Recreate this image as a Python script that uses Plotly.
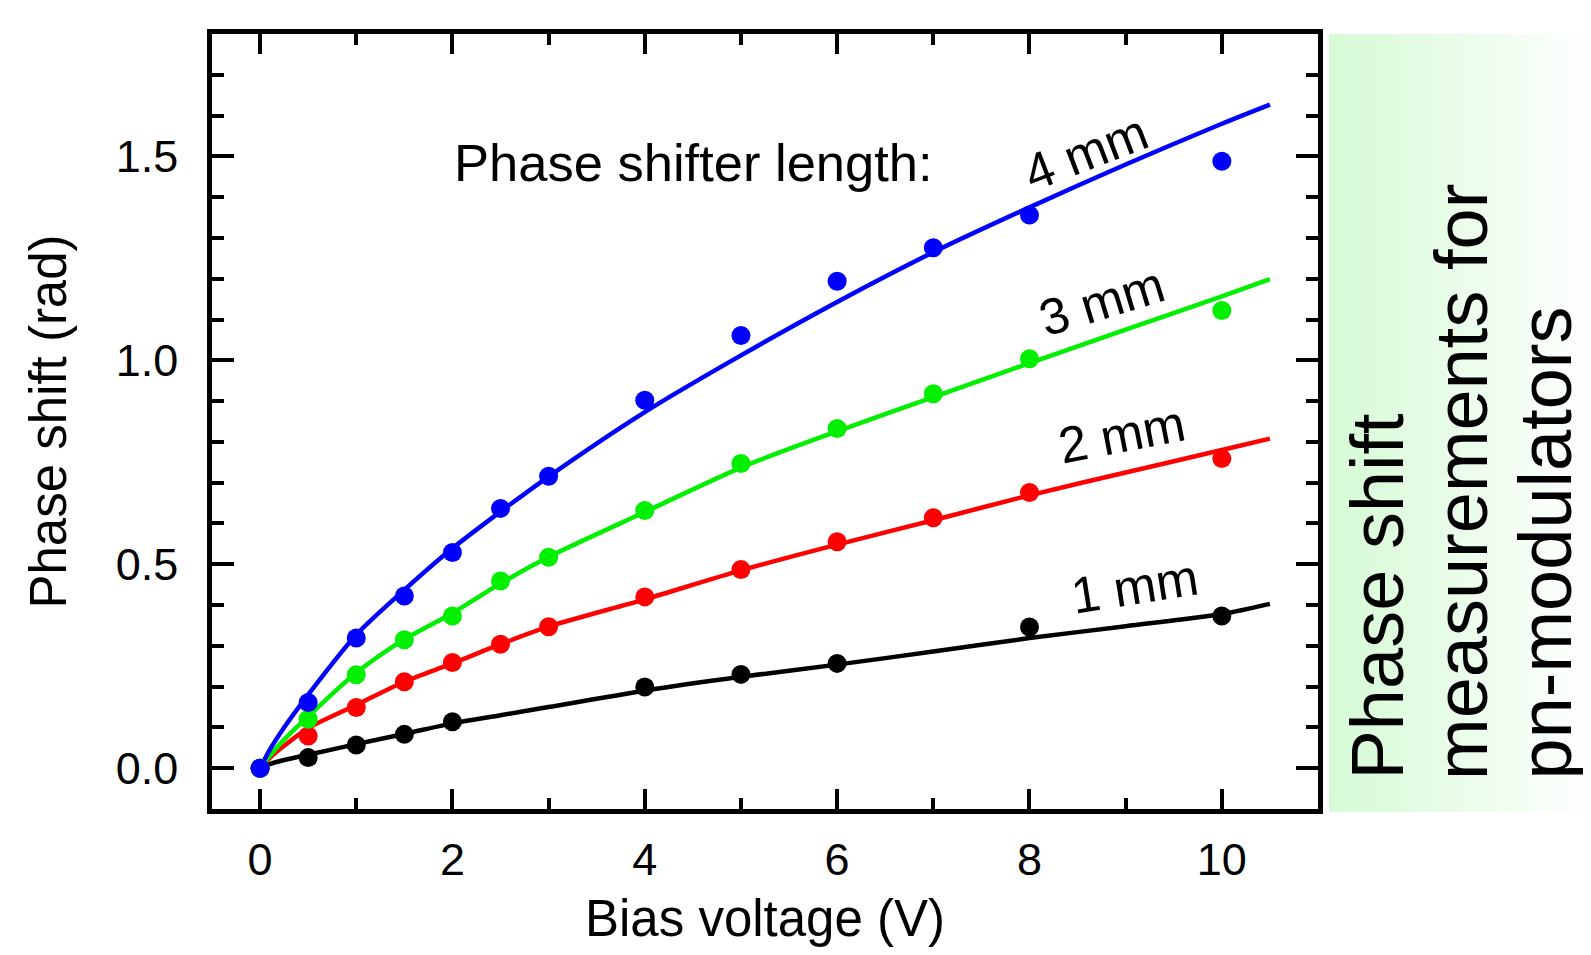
import plotly.graph_objects as go

# ---- data ----
bias_v = [0, 0.5, 1, 1.5, 2, 2.5, 3, 4, 5, 6, 7, 8, 10]
shift_4mm = [0, 0.161, 0.319, 0.422, 0.529, 0.637, 0.716, 0.902, 1.061, 1.194, 1.276, 1.356, 1.488]
shift_3mm = [0, 0.120, 0.229, 0.315, 0.373, 0.459, 0.517, 0.632, 0.747, 0.833, 0.918, 1.004, 1.122]
shift_2mm = [0, 0.079, 0.149, 0.212, 0.259, 0.304, 0.347, 0.420, 0.487, 0.555, 0.614, 0.676, 0.759]
bias_v_1mm = [0, 0.5, 1, 1.5, 2, 4, 5, 6, 8, 10]
shift_1mm = [0, 0.026, 0.057, 0.083, 0.114, 0.199, 0.230, 0.257, 0.346, 0.373]

# fitted curves
fit_v = [0, 0.1, 0.25, 0.5, 1, 1.5, 2, 2.5, 3, 4, 5, 6, 7, 8, 9, 10, 10.5]
fit_4mm = [0, 0.045, 0.100, 0.180, 0.327, 0.437, 0.539, 0.629, 0.715, 0.873, 1.012, 1.143, 1.265, 1.375, 1.480, 1.580, 1.627]
fit_3mm = [0, 0.030, 0.070, 0.127, 0.234, 0.316, 0.380, 0.453, 0.518, 0.628, 0.737, 0.826, 0.910, 0.993, 1.075, 1.157, 1.199]
fit_2mm = [0, 0.025, 0.055, 0.098, 0.155, 0.212, 0.257, 0.304, 0.347, 0.414, 0.485, 0.548, 0.608, 0.669, 0.725, 0.780, 0.808]
fit_1mm = [0, 0.010, 0.020, 0.033, 0.059, 0.084, 0.110, 0.130, 0.150, 0.190, 0.224, 0.254, 0.286, 0.319, 0.348, 0.378, 0.403]

labels = ["1 mm", "2 mm", "3 mm", "4 mm"]
label_x = [9.10, 8.96, 8.75, 8.59]
label_y = [0.445, 0.818, 1.145, 1.51]
label_angle = [-9, -11, -17, -21]

x_ticks = [0, 2, 4, 6, 8, 10]
y_ticks = [0.0, 0.5, 1.0, 1.5]

FONT = "Arial, Liberation Sans, sans-serif"
C_BLACK, C_RED, C_GREEN, C_BLUE = "#000000", "#ff0000", "#00f000", "#0000ff"

fig = go.Figure()

# fit lines
for y, c in [(fit_1mm, C_BLACK), (fit_2mm, C_RED), (fit_3mm, C_GREEN), (fit_4mm, C_BLUE)]:
    fig.add_trace(go.Scatter(x=fit_v, y=y, mode="lines", line=dict(color=c, width=4.5, shape="spline", smoothing=0.8),
                             showlegend=False, hoverinfo="skip"))

# measured points
for x, y, c in [(bias_v_1mm, shift_1mm, C_BLACK), (bias_v, shift_2mm, C_RED),
                (bias_v, shift_3mm, C_GREEN), (bias_v, shift_4mm, C_BLUE)]:
    fig.add_trace(go.Scatter(x=x, y=y, mode="markers", marker=dict(color=c, size=19, line=dict(width=0)),
                             showlegend=False))

# page body has an 8px margin: figure is 1583x947 so the plot sits where the reference has it
OFF = 8
ML, MT = 212 - OFF, 34 - OFF
W, H = 1591 - OFF, 955 - OFF
PW = 1318 - 212
PH = 809 - 34

# green gradient side panel
n = 40
x0p, x1p = (1329 - 212) / PW, (1591 - 212) / PW
for i in range(n):
    t = i / (n - 1)
    r = int(0xd6 + (0xff - 0xd6) * t)
    g = int(0xfb + (0xff - 0xfb) * t)
    b = int(0xd6 + (0xff - 0xd6) * t)
    fig.add_shape(type="rect", xref="paper", yref="paper",
                  x0=x0p + (x1p - x0p) * i / n, x1=x0p + (x1p - x0p) * (i + 1) / n + 0.001,
                  y0=-0.004, y1=1.0, line=dict(width=0),
                  fillcolor=f"rgb({r},{g},{b})", layer="below")

def px2paper_x(px):
    return (px - 212) / PW

def px2paper_y(py):
    return (809 - py) / PH

for txt, cx in [("Phase shift", 1377), ("measurements for", 1461), ("pn-modulators", 1545)]:
    fig.add_annotation(text=txt, xref="paper", yref="paper", x=px2paper_x(cx), y=px2paper_y(781),
                       xanchor="center", yanchor="bottom", textangle=-90, showarrow=False,
                       font=dict(family=FONT, size=74, color="black"), borderpad=0)

fig.add_annotation(text="Phase shifter length:", x=4.51, y=1.485, xref="x", yref="y",
                   showarrow=False, font=dict(family=FONT, size=52.5, color="black"))
for t, lx, ly, a in zip(labels, label_x, label_y, label_angle):
    fig.add_annotation(text=t, x=lx, y=ly, xref="x", yref="y", textangle=a, showarrow=False,
                       font=dict(family=FONT, size=51, color="black"))

axis_common = dict(showline=True, linewidth=4.5, linecolor="black", mirror="ticks",
                   ticks="inside", tickwidth=3.5, tickcolor="black", showgrid=False, zeroline=False,
                   tickfont=dict(family=FONT, size=45, color="black"))

fig.update_xaxes(range=[-0.5, 11.0], tickvals=x_ticks, ticktext=[str(v) for v in x_ticks], ticklen=20,
                 ticklabelstandoff=7,
                 minor=dict(ticks="inside", dtick=1, tick0=0, ticklen=11, tickwidth=3.5, tickcolor="black"),
                 title=dict(text="Bias voltage (V)", font=dict(family=FONT, size=51, color="black"), standoff=18),
                 **axis_common)
fig.update_yaxes(range=[-0.1, 1.8], tickvals=y_ticks, ticktext=[f"{v:.1f}" for v in y_ticks], ticklen=22,
                 ticklabelstandoff=20,
                 minor=dict(ticks="inside", dtick=0.1, tick0=0, ticklen=12, tickwidth=3.5, tickcolor="black"),
                 title=dict(text="Phase shift (rad)", font=dict(family=FONT, size=51, color="black"), standoff=34),
                 **axis_common)

fig.update_layout(width=W, height=H, margin=dict(l=ML, r=W - ML - PW, t=MT, b=H - MT - PH, autoexpand=False),
                  paper_bgcolor="white", plot_bgcolor="white", font=dict(family=FONT))

fig.write_html("out.html")
